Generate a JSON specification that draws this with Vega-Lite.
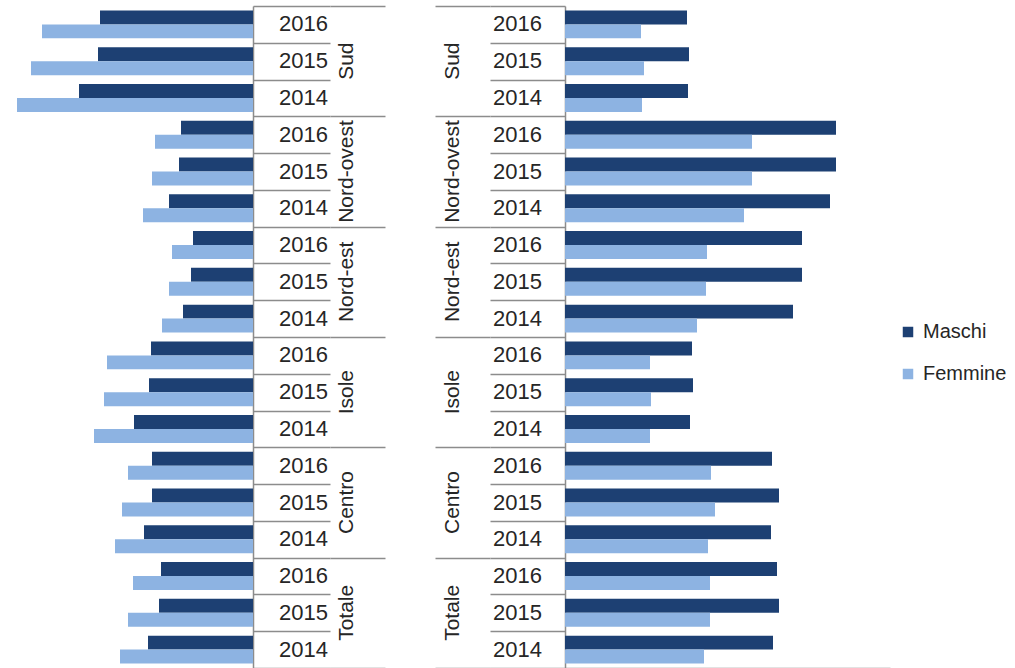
{
  "$schema": "https://vega.github.io/schema/vega-lite/v6.json",
  "background": "white",
  "padding": {"left": 0, "top": 6, "right": 0, "bottom": 0},
  "spacing": 50,
  "config": {
    "view": {"stroke": null},
    "font": "Liberation Sans",
    "axis": {"gridColor": "#8c8c8c", "gridWidth": 1.5, "domainColor": "#8c8c8c", "domainWidth": 1.5}
  },
  "data": {
    "values": [
      {"area": "Sud", "anno": "2016", "sesso": "Maschi", "riga": "Sud 2016", "sinistra": 15.3, "destra": 12.2},
      {"area": "Sud", "anno": "2016", "sesso": "Femmine", "riga": "Sud 2016", "sinistra": 21.1, "destra": 7.6},
      {"area": "Sud", "anno": "2015", "sesso": "Maschi", "riga": "Sud 2015", "sinistra": 15.5, "destra": 12.4},
      {"area": "Sud", "anno": "2015", "sesso": "Femmine", "riga": "Sud 2015", "sinistra": 22.2, "destra": 7.9},
      {"area": "Sud", "anno": "2014", "sesso": "Maschi", "riga": "Sud 2014", "sinistra": 17.4, "destra": 12.3},
      {"area": "Sud", "anno": "2014", "sesso": "Femmine", "riga": "Sud 2014", "sinistra": 23.6, "destra": 7.7},
      {"area": "Nord-ovest", "anno": "2016", "sesso": "Maschi", "riga": "Nord-ovest 2016", "sinistra": 7.2, "destra": 27.1},
      {"area": "Nord-ovest", "anno": "2016", "sesso": "Femmine", "riga": "Nord-ovest 2016", "sinistra": 9.8, "destra": 18.7},
      {"area": "Nord-ovest", "anno": "2015", "sesso": "Maschi", "riga": "Nord-ovest 2015", "sinistra": 7.4, "destra": 27.1},
      {"area": "Nord-ovest", "anno": "2015", "sesso": "Femmine", "riga": "Nord-ovest 2015", "sinistra": 10.1, "destra": 18.7},
      {"area": "Nord-ovest", "anno": "2014", "sesso": "Maschi", "riga": "Nord-ovest 2014", "sinistra": 8.4, "destra": 26.5},
      {"area": "Nord-ovest", "anno": "2014", "sesso": "Femmine", "riga": "Nord-ovest 2014", "sinistra": 11.0, "destra": 17.9},
      {"area": "Nord-est", "anno": "2016", "sesso": "Maschi", "riga": "Nord-est 2016", "sinistra": 6.0, "destra": 23.7},
      {"area": "Nord-est", "anno": "2016", "sesso": "Femmine", "riga": "Nord-est 2016", "sinistra": 8.1, "destra": 14.2},
      {"area": "Nord-est", "anno": "2015", "sesso": "Maschi", "riga": "Nord-est 2015", "sinistra": 6.2, "destra": 23.7},
      {"area": "Nord-est", "anno": "2015", "sesso": "Femmine", "riga": "Nord-est 2015", "sinistra": 8.4, "destra": 14.1},
      {"area": "Nord-est", "anno": "2014", "sesso": "Maschi", "riga": "Nord-est 2014", "sinistra": 7.0, "destra": 22.8},
      {"area": "Nord-est", "anno": "2014", "sesso": "Femmine", "riga": "Nord-est 2014", "sinistra": 9.1, "destra": 13.2},
      {"area": "Isole", "anno": "2016", "sesso": "Maschi", "riga": "Isole 2016", "sinistra": 10.2, "destra": 12.7},
      {"area": "Isole", "anno": "2016", "sesso": "Femmine", "riga": "Isole 2016", "sinistra": 14.6, "destra": 8.5},
      {"area": "Isole", "anno": "2015", "sesso": "Maschi", "riga": "Isole 2015", "sinistra": 10.4, "destra": 12.8},
      {"area": "Isole", "anno": "2015", "sesso": "Femmine", "riga": "Isole 2015", "sinistra": 14.9, "destra": 8.6},
      {"area": "Isole", "anno": "2014", "sesso": "Maschi", "riga": "Isole 2014", "sinistra": 11.9, "destra": 12.5},
      {"area": "Isole", "anno": "2014", "sesso": "Femmine", "riga": "Isole 2014", "sinistra": 15.9, "destra": 8.5},
      {"area": "Centro", "anno": "2016", "sesso": "Maschi", "riga": "Centro 2016", "sinistra": 10.1, "destra": 20.7},
      {"area": "Centro", "anno": "2016", "sesso": "Femmine", "riga": "Centro 2016", "sinistra": 12.5, "destra": 14.6},
      {"area": "Centro", "anno": "2015", "sesso": "Maschi", "riga": "Centro 2015", "sinistra": 10.1, "destra": 21.4},
      {"area": "Centro", "anno": "2015", "sesso": "Femmine", "riga": "Centro 2015", "sinistra": 13.1, "destra": 15.0},
      {"area": "Centro", "anno": "2014", "sesso": "Maschi", "riga": "Centro 2014", "sinistra": 10.9, "destra": 20.6},
      {"area": "Centro", "anno": "2014", "sesso": "Femmine", "riga": "Centro 2014", "sinistra": 13.8, "destra": 14.3},
      {"area": "Totale", "anno": "2016", "sesso": "Maschi", "riga": "Totale 2016", "sinistra": 9.2, "destra": 21.2},
      {"area": "Totale", "anno": "2016", "sesso": "Femmine", "riga": "Totale 2016", "sinistra": 12.0, "destra": 14.5},
      {"area": "Totale", "anno": "2015", "sesso": "Maschi", "riga": "Totale 2015", "sinistra": 9.4, "destra": 21.4},
      {"area": "Totale", "anno": "2015", "sesso": "Femmine", "riga": "Totale 2015", "sinistra": 12.5, "destra": 14.5},
      {"area": "Totale", "anno": "2014", "sesso": "Maschi", "riga": "Totale 2014", "sinistra": 10.5, "destra": 20.8},
      {"area": "Totale", "anno": "2014", "sesso": "Femmine", "riga": "Totale 2014", "sinistra": 13.3, "destra": 13.9}
    ]
  },
  "hconcat": [
    {
      "spacing": 0,
      "bounds": "flush",
      "hconcat": [
        {
          "width": 253,
          "height": 662,
          "mark": {"type": "bar"},
          "encoding": {
            "y": {"field": "riga", "type": "nominal", "sort": null, "scale": {"paddingInner": 0.24, "paddingOuter": 0.12},
              "axis": {"orient": "right", "labels": false, "ticks": false, "grid": false, "domain": true, "title": null}},
            "yOffset": {"field": "sesso", "type": "nominal", "sort": ["Maschi", "Femmine"], "scale": {"paddingInner": 0}},
            "x": {"field": "sinistra", "type": "quantitative", "scale": {"domain": [0, 25.3], "reverse": true}, "axis": null},
            "color": {"field": "sesso", "type": "nominal", "sort": ["Maschi", "Femmine"],
              "scale": {"domain": ["Maschi", "Femmine"], "range": ["#1D4073", "#8DB3E2"]},
              "legend": {"title": null, "orient": "none", "legendX": 898, "legendY": 316, "symbolType": "square", "symbolSize": 110, "symbolStrokeWidth": 0, "labelFontSize": 20, "labelColor": "#262626", "labelFont": "Liberation Sans", "rowPadding": 22, "labelOffset": 5, "padding": 0}}
          }
        },
        {
          "width": 77,
          "height": 662,
          "transform": [{"filter": "datum.sesso === 'Maschi'"}],
          "mark": {"type": "text", "fontSize": 22, "color": "#262626", "dx": 12, "align": "center", "baseline": "middle"},
          "encoding": {
            "y": {"field": "riga", "type": "nominal", "sort": null, "scale": {"paddingInner": 0, "paddingOuter": 0},
              "axis": {"labels": false, "ticks": false, "domain": false, "grid": true, "tickBand": "extent", "title": null}},
            "text": {"field": "anno"}
          }
        },
        {
          "width": 55,
          "height": 662,
          "transform": [{"filter": "datum.sesso === 'Maschi' && datum.anno === '2016'"}],
          "mark": {"type": "text", "fontSize": 21, "color": "#262626", "angle": 270, "dy": -11, "align": "center", "baseline": "middle"},
          "encoding": {
            "y": {"field": "area", "type": "nominal", "sort": null, "scale": {"paddingInner": 0, "paddingOuter": 0},
              "axis": {"labels": false, "ticks": false, "domain": false, "grid": true, "tickBand": "extent", "title": null}},
            "text": {"field": "area"}
          }
        }
      ]
    },
    {
      "spacing": 0,
      "bounds": "flush",
      "hconcat": [
        {
          "width": 55,
          "height": 662,
          "transform": [{"filter": "datum.sesso === 'Maschi' && datum.anno === '2016'"}],
          "mark": {"type": "text", "fontSize": 21, "color": "#262626", "angle": 270, "dy": -10, "align": "center", "baseline": "middle"},
          "encoding": {
            "y": {"field": "area", "type": "nominal", "sort": null, "scale": {"paddingInner": 0, "paddingOuter": 0},
              "axis": {"labels": false, "ticks": false, "domain": false, "grid": true, "tickBand": "extent", "title": null}},
            "text": {"field": "area"}
          }
        },
        {
          "width": 75,
          "height": 662,
          "transform": [{"filter": "datum.sesso === 'Maschi'"}],
          "mark": {"type": "text", "fontSize": 22, "color": "#262626", "dx": -10, "align": "center", "baseline": "middle"},
          "encoding": {
            "y": {"field": "riga", "type": "nominal", "sort": null, "scale": {"paddingInner": 0, "paddingOuter": 0},
              "axis": {"labels": false, "ticks": false, "domain": false, "grid": true, "tickBand": "extent", "title": null}},
            "text": {"field": "anno"}
          }
        },
        {
          "width": 325,
          "height": 662,
          "mark": {"type": "bar"},
          "encoding": {
            "y": {"field": "riga", "type": "nominal", "sort": null, "scale": {"paddingInner": 0.24, "paddingOuter": 0.12},
              "axis": {"orient": "left", "labels": false, "ticks": false, "grid": false, "domain": true, "title": null}},
            "yOffset": {"field": "sesso", "type": "nominal", "sort": ["Maschi", "Femmine"], "scale": {"paddingInner": 0}},
            "x": {"field": "destra", "type": "quantitative", "scale": {"domain": [0, 32.5]},
              "axis": {"orient": "bottom", "labels": false, "ticks": false, "grid": false, "domain": true, "title": null}},
            "color": {"field": "sesso", "type": "nominal", "sort": ["Maschi", "Femmine"],
              "scale": {"domain": ["Maschi", "Femmine"], "range": ["#1D4073", "#8DB3E2"]},
              "legend": {"title": null, "orient": "none", "legendX": 898, "legendY": 316, "symbolType": "square", "symbolSize": 110, "symbolStrokeWidth": 0, "labelFontSize": 20, "labelColor": "#262626", "labelFont": "Liberation Sans", "rowPadding": 22, "labelOffset": 5, "padding": 0}}
          }
        }
      ]
    }
  ]
}
